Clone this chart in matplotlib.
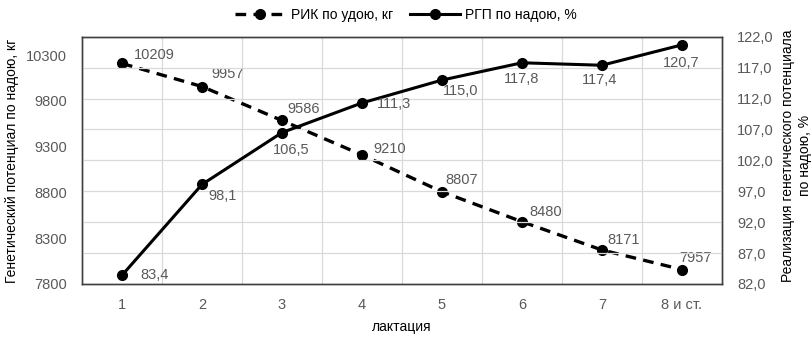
import matplotlib

matplotlib.use("Agg")
import matplotlib.pyplot as plt
from matplotlib.ticker import FuncFormatter

categories = ["1", "2", "3", "4", "5", "6", "7", "8 и ст."]
rik_values = [10209, 9957, 9586, 9210, 8807, 8480, 8171, 7957]
rgp_values = [83.4, 98.1, 106.5, 111.3, 115.0, 117.8, 117.4, 120.7]
rik_ticks = [7800, 8300, 8800, 9300, 9800, 10300]
rgp_ticks = [82, 87, 92, 97, 102, 107, 112, 117, 122]

# label offsets in pixels (dx, dy, ha) picked by eye from the reference
rik_offsets = [(12, 8, "left"), (9, 13, "left"), (5, 11, "left"), (11, 6, "left"),
               (3, 12, "left"), (7, 10, "left"), (5, 10, "left"), (-3, 12, "left")]
rgp_offsets = [(18, 0, "left"), (6, -12, "left"), (9, -17, "center"), (15, -1, "left"),
               (19, -11, "center"), (0, -16, "center"), (-2, -15, "center"), (-1, -18, "center")]

GRAY = "#595959"
plt.rcParams["font.family"] = ["Liberation Sans", "DejaVu Sans"]
plt.rcParams["font.size"] = 10

fig = plt.figure(figsize=(8.12, 3.38), dpi=100)
ax = fig.add_axes([0.101, 0.160, 0.788, 0.731])
ax2 = ax.twinx()

x = list(range(len(categories)))

ax.plot(x, rik_values, color="black", lw=2.4, ls=(0, (3.2, 2.2)), marker="o",
        ms=7, label="РИК по удою, кг", zorder=3)
ax2.plot(x, rgp_values, color="black", lw=2.2, marker="o", ms=7,
         label="РГП по надою, %", zorder=3)

for xi, v, (dx, dy, ha) in zip(x, rik_values, rik_offsets):
    ax.annotate(f"{v}", (xi, v), xytext=(dx, dy), textcoords="offset pixels",
                ha=ha, va="center", color=GRAY, fontsize=10.5)
for xi, v, (dx, dy, ha) in zip(x, rgp_values, rgp_offsets):
    ax2.annotate(f"{v:.1f}".replace(".", ","), (xi, v), xytext=(dx, dy),
                 textcoords="offset pixels", ha=ha, va="center", color=GRAY, fontsize=10.5)

ax.set_xlim(-0.5, len(categories) - 0.5)
ax.set_xticks(x)
ax.set_xticklabels(categories)
ax.set_ylim(7800, 10500)
ax.set_yticks(rik_ticks)
ax2.set_ylim(rgp_ticks[0], rgp_ticks[-1])
ax2.set_yticks(rgp_ticks)
ax2.yaxis.set_major_formatter(FuncFormatter(lambda v, p: f"{v:.1f}".replace(".", ",")))

# gridlines: horizontal follow right axis, vertical at category boundaries
for yv in rgp_ticks[1:-1]:
    ax2.axhline(yv, color="#d9d9d9", lw=0.9, zorder=0)
for xb in range(len(categories) - 1):
    ax.axvline(xb + 0.5, color="#d9d9d9", lw=0.9, zorder=0)

for a in (ax, ax2):
    a.tick_params(length=0, colors=GRAY, labelsize=10.5)
    for s in a.spines.values():
        s.set_color("#404040")
        s.set_linewidth(1.0)
ax.tick_params(axis="x", pad=10)
ax.tick_params(axis="y", pad=11)
ax2.tick_params(axis="y", pad=11)

ax.set_xlabel("лактация", color="black", fontsize=10, labelpad=6)
fig.text(0.015, 0.525, "Генетический потенциал по надою, кг", rotation=90,
         ha="center", va="center", fontsize=10, color="black")
fig.text(0.981, 0.54, "Реализация генетического потенциала\nпо надою, %", rotation=90,
         ha="center", va="center", fontsize=10, color="black", linespacing=1.3)

h1, l1 = ax.get_legend_handles_labels()
h2, l2 = ax2.get_legend_handles_labels()
fig.legend(h1 + h2, l1 + l2, loc="center", bbox_to_anchor=(0.5, 0.955), ncol=2,
           frameon=False, handlelength=3.6, columnspacing=1.2, handletextpad=0.4,
           fontsize=10)

fig.savefig("out.png", dpi=100)
